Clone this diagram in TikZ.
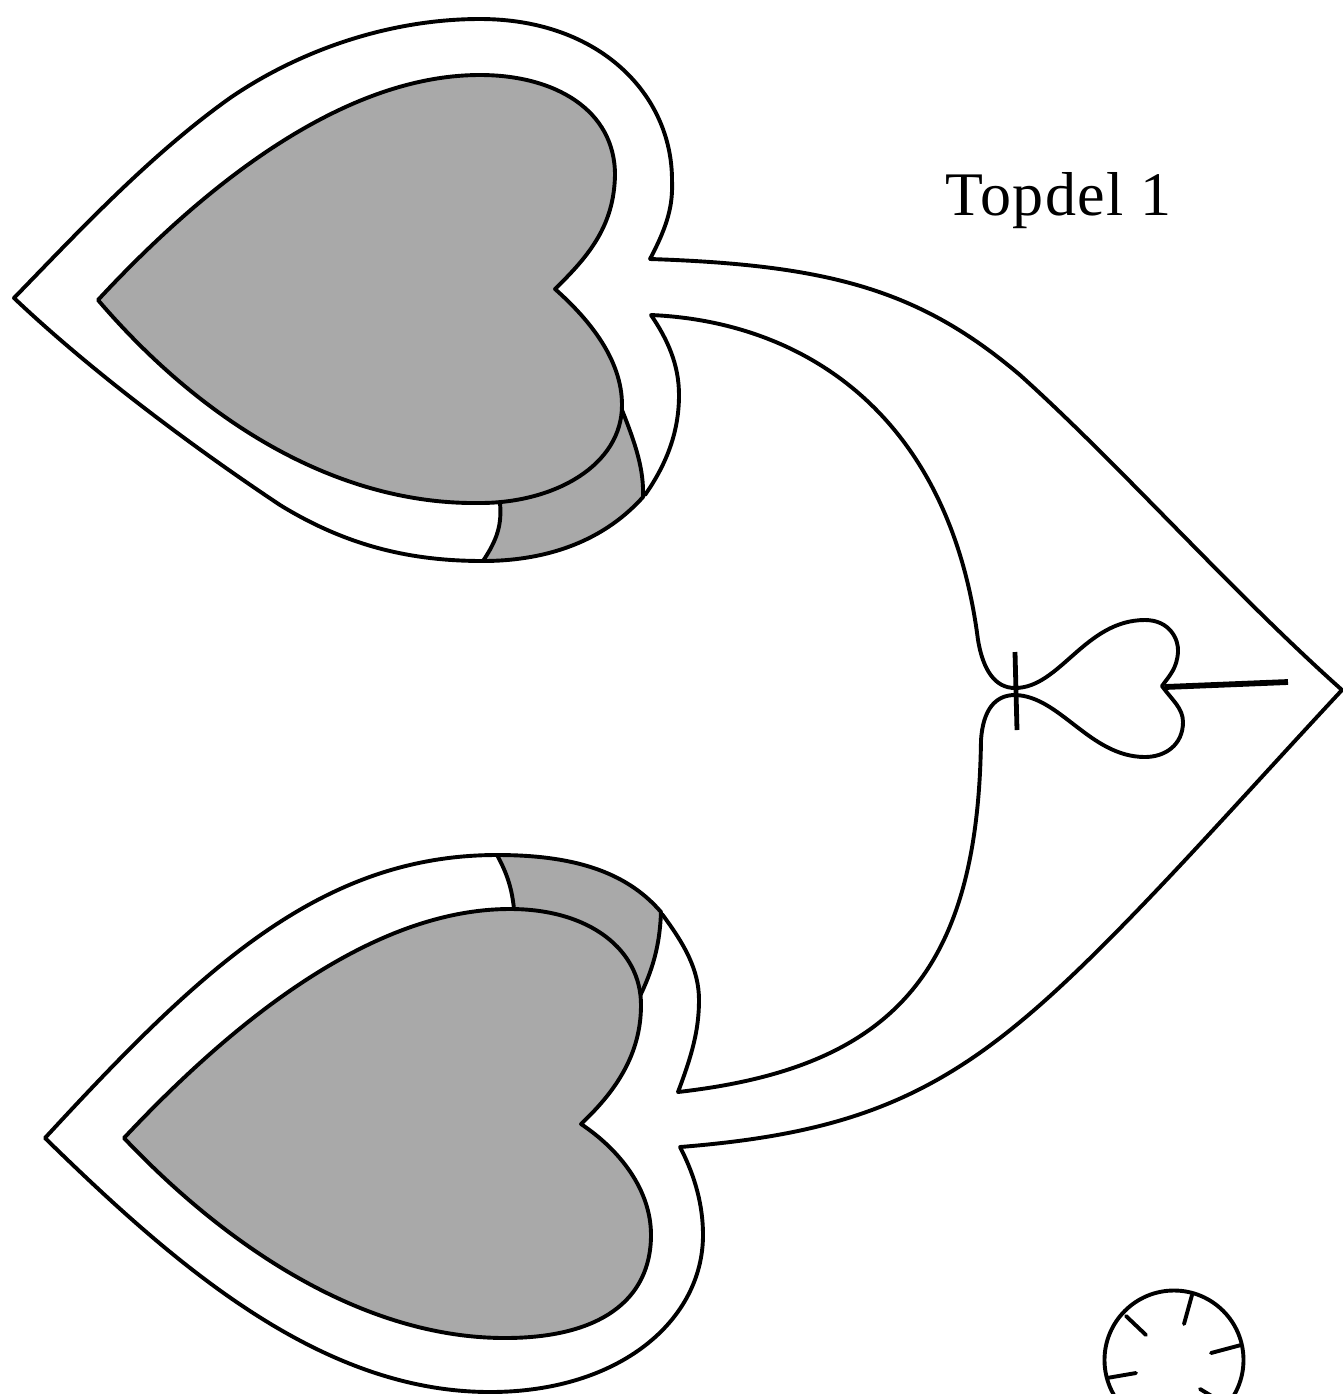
\documentclass[tikz,border=0pt]{standalone}
\usepackage{fontspec}
\setmainfont{Liberation Serif}
\definecolor{heartgray}{HTML}{A9A9A9}
\tikzset{
  outline/.style={draw=black,line width=1.95pt,line join=round,line cap=round},
  shaded/.style={outline,fill=heartgray},
  tick/.style={draw=black,line width=2.4pt,line cap=butt},
  pin/.style={draw=black,line width=2.9pt,line cap=butt}
}
\begin{document}
\begin{tikzpicture}[x=0.5pt,y=-0.5pt]
\path[use as bounding box] (0,0) rectangle (1343,1394);
\clip (0,0) rectangle (1343,1394);
\fill[white] (0,0) rectangle (1343,1394);
% upper flap and heart
\path[shaded] (622,410) .. controls (636,445) and (644,470) .. (643,497)
 .. controls (600,545) and (540,561) .. (483,561)
 .. controls (497,540) and (502,525) .. (500,503) -- cycle;
\path[shaded] (555,289) .. controls (590,255) and (614,225) .. (615,175)
 .. controls (615,110) and (555,75) .. (480,75)
 .. controls (340,75) and (200,190) .. (98,300)
 .. controls (205,425) and (340,505) .. (480,503)
 .. controls (555,503) and (622,465) .. (622,405)
 .. controls (622,360) and (590,320) .. (555,289) -- cycle;
% lower flap and heart
\path[shaded] (640,996) .. controls (655,965) and (660,940) .. (661,912)
 .. controls (625,870) and (570,855) .. (497,855)
 .. controls (508,875) and (512,890) .. (514,909) -- cycle;
\path[shaded] (581,1124) .. controls (615,1092) and (641,1055) .. (641,1005)
 .. controls (641,950) and (590,909) .. (510,909)
 .. controls (370,909) and (230,1025) .. (124,1138)
 .. controls (235,1255) and (370,1338) .. (505,1338)
 .. controls (600,1338) and (651,1300) .. (651,1235)
 .. controls (651,1190) and (620,1150) .. (581,1124) -- cycle;
% outer outline
\path[outline] (650,259) .. controls (668,225) and (673,205) .. (672,180)
 .. controls (672,95) and (600,19) .. (480,19)
 .. controls (390,19) and (300,50) .. (230,98)
 .. controls (150,155) and (80,230) .. (14,298)
 .. controls (90,370) and (190,445) .. (280,505)
 .. controls (350,548) and (415,561) .. (483,561);
\path[outline] (645,495) .. controls (668,462) and (679,430) .. (679,395)
 .. controls (679,365) and (668,340) .. (651,315)
 .. controls (810,322) and (950,420) .. (978,640)
 .. controls (983,670) and (995,688) .. (1015,688)
 .. controls (1060,688) and (1085,620) .. (1145,620)
 .. controls (1170,620) and (1179,640) .. (1178,652)
 .. controls (1177,668) and (1170,675) .. (1162,686)
 .. controls (1172,700) and (1183,708) .. (1183,722)
 .. controls (1183,745) and (1165,757) .. (1145,757)
 .. controls (1090,757) and (1060,696) .. (1015,695)
 .. controls (995,695) and (983,710) .. (981,740)
 .. controls (978,975) and (890,1068) .. (678,1092)
 .. controls (692,1055) and (699,1030) .. (699,1000)
 .. controls (699,970) and (685,945) .. (662,914);
\path[outline] (497,855) .. controls (320,855) and (200,970) .. (45,1138)
 .. controls (175,1265) and (320,1392) .. (490,1392)
 .. controls (620,1392) and (703,1320) .. (703,1235)
 .. controls (703,1200) and (692,1170) .. (680,1147)
 .. controls (830,1135) and (920,1105) .. (1020,1022)
 .. controls (1110,948) and (1230,810) .. (1342,690)
 .. controls (1230,590) and (1120,465) .. (1020,375)
 .. controls (920,290) and (830,265) .. (650,259);
% valve details
\path[tick] (1015,652) -- (1017,730);
\path[pin] (1165,687) -- (1288,682);
% disc
\node[circle,minimum size=69.5pt,inner sep=0pt,outline] (disc) at (1174,1360) {};
\coordinate (a1) at (1126,1316); \coordinate (a2) at (1146,1335);
\coordinate (b1) at (1192,1295); \coordinate (b2) at (1184,1324);
\coordinate (c1) at (1241,1345); \coordinate (c2) at (1211,1353);
\coordinate (d1) at (1107,1378); \coordinate (d2) at (1136,1373);
\coordinate (e1) at (1200,1389); \coordinate (e2) at (1215,1398);
\path[outline] (a1) -- (a2);
\path[outline] (b1) -- (b2);
\path[outline] (c1) -- (c2);
\path[outline] (d1) -- (d2);
\path[outline] (e1) -- (e2);
% label
\node[anchor=base west,inner sep=0pt,font=\fontsize{31}{31}\selectfont\addfontfeature{LetterSpace=2.2}] (title) at (945,215) {Topdel 1};
\end{tikzpicture}
\end{document}
